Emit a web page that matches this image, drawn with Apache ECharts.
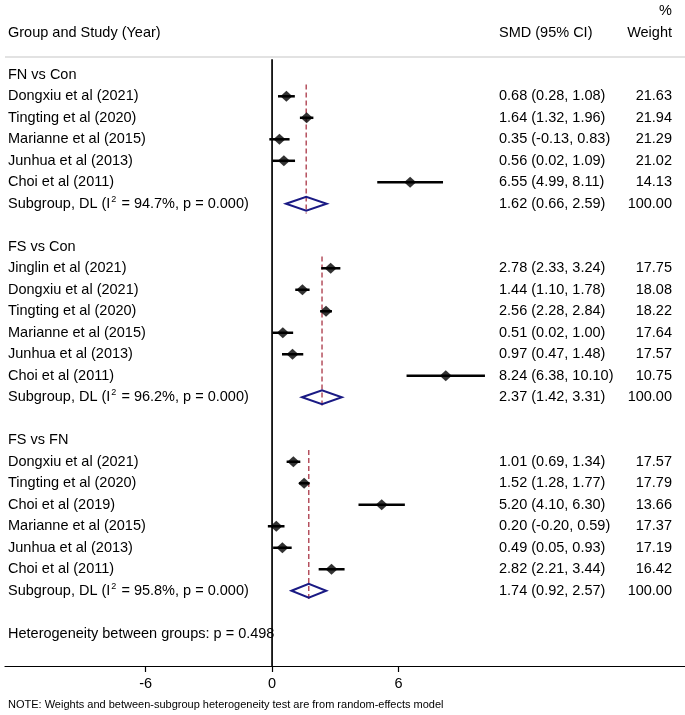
<!DOCTYPE html>
<html>
<head>
<meta charset="utf-8">
<script src="https://cdn.jsdelivr.net/npm/echarts@6/dist/echarts.min.js"></script>
<style>
  html, body { margin: 0; padding: 0; background: #fff; }
  #chart { width: 685px; height: 715px; }
</style>
</head>
<body>
<div id="chart"></div>
<script>
// groups and studies
var groupNames = ['FN vs Con', 'FS vs Con', 'FS vs FN'];
var studyNames = [
  'Dongxiu et al (2021)', 'Tingting et al (2020)', 'Marianne et al (2015)', 'Junhua et al (2013)', 'Choi et al (2011)',
  'Jinglin et al (2021)', 'Dongxiu et al (2021)', 'Tingting et al (2020)', 'Marianne et al (2015)', 'Junhua et al (2013)', 'Choi et al (2011)',
  'Dongxiu et al (2021)', 'Tingting et al (2020)', 'Choi et al (2019)', 'Marianne et al (2015)', 'Junhua et al (2013)', 'Choi et al (2011)'
];
var studyGroup = [0, 0, 0, 0, 0, 1, 1, 1, 1, 1, 1, 2, 2, 2, 2, 2, 2];
var studySmd   = [0.68, 1.64, 0.35, 0.56, 6.55, 2.78, 1.44, 2.56, 0.51, 0.97, 8.24, 1.01, 1.52, 5.20, 0.20, 0.49, 2.82];
var studyLower = [0.28, 1.32, -0.13, 0.02, 4.99, 2.33, 1.10, 2.28, 0.02, 0.47, 6.38, 0.69, 1.28, 4.10, -0.20, 0.05, 2.21];
var studyUpper = [1.08, 1.96, 0.83, 1.09, 8.11, 3.24, 1.78, 2.84, 1.00, 1.48, 10.10, 1.34, 1.77, 6.30, 0.59, 0.93, 3.44];
var studyWeight = ['21.63', '21.94', '21.29', '21.02', '14.13', '17.75', '18.08', '18.22', '17.64', '17.57', '10.75', '17.57', '17.79', '13.66', '17.37', '17.19', '16.42'];

var subgroupSmd   = [1.62, 2.37, 1.74];
var subgroupLower = [0.66, 1.42, 0.92];
var subgroupUpper = [2.59, 3.31, 2.57];
var subgroupI2    = ['94.7%', '96.2%', '95.8%'];
var subgroupP     = ['0.000', '0.000', '0.000'];
var heterogeneityP = '0.498';
var xTicks = [-6, 0, 6];

var FONT = "'Liberation Sans', Arial, sans-serif";
var FONT_SIZE = 14.5;
var xLeftCol = 8, xSmdCol = 499, xWeightCol = 672;

// row layout: group header, studies, subgroup, blank
var studyRows = [], groupRows = [], subgroupRows = [], firstStudyRows = [];
var row = 0;
groupNames.forEach(function (g, gi) {
  groupRows.push(row); row++;
  firstStudyRows.push(row);
  for (var i = 0; i < studyNames.length; i++) {
    if (studyGroup[i] === gi) { studyRows[i] = row; row++; }
  }
  subgroupRows.push(row);
  row += 2;
});
var hetRow = row;

function fmt(est, lo, hi) { return est.toFixed(2) + ' (' + lo.toFixed(2) + ', ' + hi.toFixed(2) + ')'; }

// text items: [row, text, column]
var textData = [];
textData.push([-2.97, '%', 2]);
textData.push([-1.93, 'Group and Study (Year)', 0]);
textData.push([-1.93, 'SMD (95% CI)', 1]);
textData.push([-1.93, 'Weight', 2]);
groupNames.forEach(function (g, gi) {
  textData.push([groupRows[gi], g, 0]);
  textData.push([subgroupRows[gi], 'Subgroup, DL (I{sup|2} = ' + subgroupI2[gi] + ', p = ' + subgroupP[gi] + ')', 0]);
  textData.push([subgroupRows[gi], fmt(subgroupSmd[gi], subgroupLower[gi], subgroupUpper[gi]), 1]);
  textData.push([subgroupRows[gi], '100.00', 2]);
});
studyNames.forEach(function (s, i) {
  textData.push([studyRows[i], s, 0]);
  textData.push([studyRows[i], fmt(studySmd[i], studyLower[i], studyUpper[i]), 1]);
  textData.push([studyRows[i], studyWeight[i], 2]);
});
textData.push([hetRow, 'Heterogeneity between groups: p = ' + heterogeneityP, 0]);

var ciData = studyNames.map(function (s, i) { return [studyLower[i], studyUpper[i], studyRows[i]]; });
var pointData = studyNames.map(function (s, i) { return [studySmd[i], studyRows[i]]; });
var pooledData = groupNames.map(function (g, gi) { return [subgroupLower[gi], subgroupUpper[gi], subgroupSmd[gi], subgroupRows[gi]]; });
var refData = groupNames.map(function (g, gi) { return [subgroupSmd[gi], firstStudyRows[gi] - 0.55, subgroupRows[gi] + 0.45]; });

var Y_MIN = -3, Y_MAX = 27.5;

var myChart = echarts.init(document.getElementById('chart'), null, { renderer: 'canvas' });
var option = {
  animation: false,
  backgroundColor: '#fff',
  grid: { left: 5, right: 0, top: 10.3, bottom: 49, containLabel: false },
  xAxis: {
    type: 'value',
    min: -12.67,
    max: 19.59,
    axisLine: { show: true, onZero: false, lineStyle: { color: '#000', width: 1.2 } },
    axisTick: { show: true, customValues: xTicks, length: 6, lineStyle: { color: '#000', width: 1.2 } },
    axisLabel: { customValues: xTicks, color: '#000', fontSize: FONT_SIZE, fontFamily: FONT, margin: 10 },
    splitLine: { show: false }
  },
  yAxis: { type: 'value', inverse: true, min: Y_MIN, max: Y_MAX, show: false },
  graphic: [{
    type: 'text', left: 8, top: 699,
    style: { text: 'NOTE: Weights and between-subgroup heterogeneity test are from random-effects model', font: '11px ' + FONT, fill: '#000' }
  }],
  series: [
    {
      // header rule + null line
      type: 'custom',
      data: [[0]],
      silent: true,
      z: 1,
      renderItem: function (params, api) {
        var cs = params.coordSys;
        var yRule = api.coord([0, -0.83])[1];
        var top = api.coord([0, -0.72]);
        var bottom = api.coord([0, Y_MAX]);
        return {
          type: 'group',
          children: [
            { type: 'line', shape: { x1: cs.x, y1: yRule, x2: cs.x + cs.width, y2: yRule }, style: { stroke: '#d8d8d8', lineWidth: 1.5 } },
            { type: 'line', shape: { x1: top[0], y1: top[1], x2: bottom[0], y2: bottom[1] }, style: { stroke: '#000', lineWidth: 1.7 } }
          ]
        };
      }
    },
    {
      type: 'custom',
      data: refData,
      silent: true,
      z: 2,
      renderItem: function (params, api) {
        var p1 = api.coord([api.value(0), api.value(1)]);
        var p2 = api.coord([api.value(0), api.value(2)]);
        return { type: 'line', shape: { x1: p1[0], y1: p1[1], x2: p2[0], y2: p2[1] }, style: { stroke: '#b5505e', lineWidth: 1.5, lineDash: [5, 3] } };
      }
    },
    {
      type: 'custom',
      data: ciData,
      silent: true,
      z: 3,
      renderItem: function (params, api) {
        var p1 = api.coord([api.value(0), api.value(2)]);
        var p2 = api.coord([api.value(1), api.value(2)]);
        return { type: 'line', shape: { x1: p1[0], y1: p1[1], x2: p2[0], y2: p2[1] }, style: { stroke: '#000', lineWidth: 2.5 } };
      }
    },
    {
      type: 'scatter',
      data: pointData,
      symbol: 'diamond',
      symbolSize: [12, 11],
      itemStyle: { color: '#000' },
      silent: true,
      z: 4
    },
    {
      type: 'custom',
      data: pooledData,
      silent: true,
      z: 4,
      renderItem: function (params, api) {
        var lo = api.coord([api.value(0), api.value(3)]);
        var hi = api.coord([api.value(1), api.value(3)]);
        var mid = api.coord([api.value(2), api.value(3)]);
        var h = 7;
        return {
          type: 'polygon',
          shape: { points: [[lo[0], lo[1]], [mid[0], mid[1] - h], [hi[0], hi[1]], [mid[0], mid[1] + h]] },
          style: { fill: 'none', stroke: '#1a1a84', lineWidth: 2 }
        };
      }
    },
    {
      type: 'custom',
      data: textData,
      silent: true,
      z: 5,
      renderItem: function (params, api) {
        var item = textData[params.dataIndex];
        var y = api.coord([0, item[0]])[1];
        var col = item[2];
        var x = col === 0 ? xLeftCol : (col === 1 ? xSmdCol : xWeightCol);
        return {
          type: 'text',
          x: x,
          y: y,
          style: {
            text: item[1],
            font: FONT_SIZE + 'px ' + FONT,
            fill: '#000',
            align: col === 2 ? 'right' : 'left',
            verticalAlign: 'middle',
            rich: {
              sup: { fontSize: 9, fontFamily: FONT, fill: '#000', padding: [0, 1, 9, 1] }
            }
          }
        };
      }
    }
  ]
};
myChart.setOption(option);
</script>
</body>
</html>
